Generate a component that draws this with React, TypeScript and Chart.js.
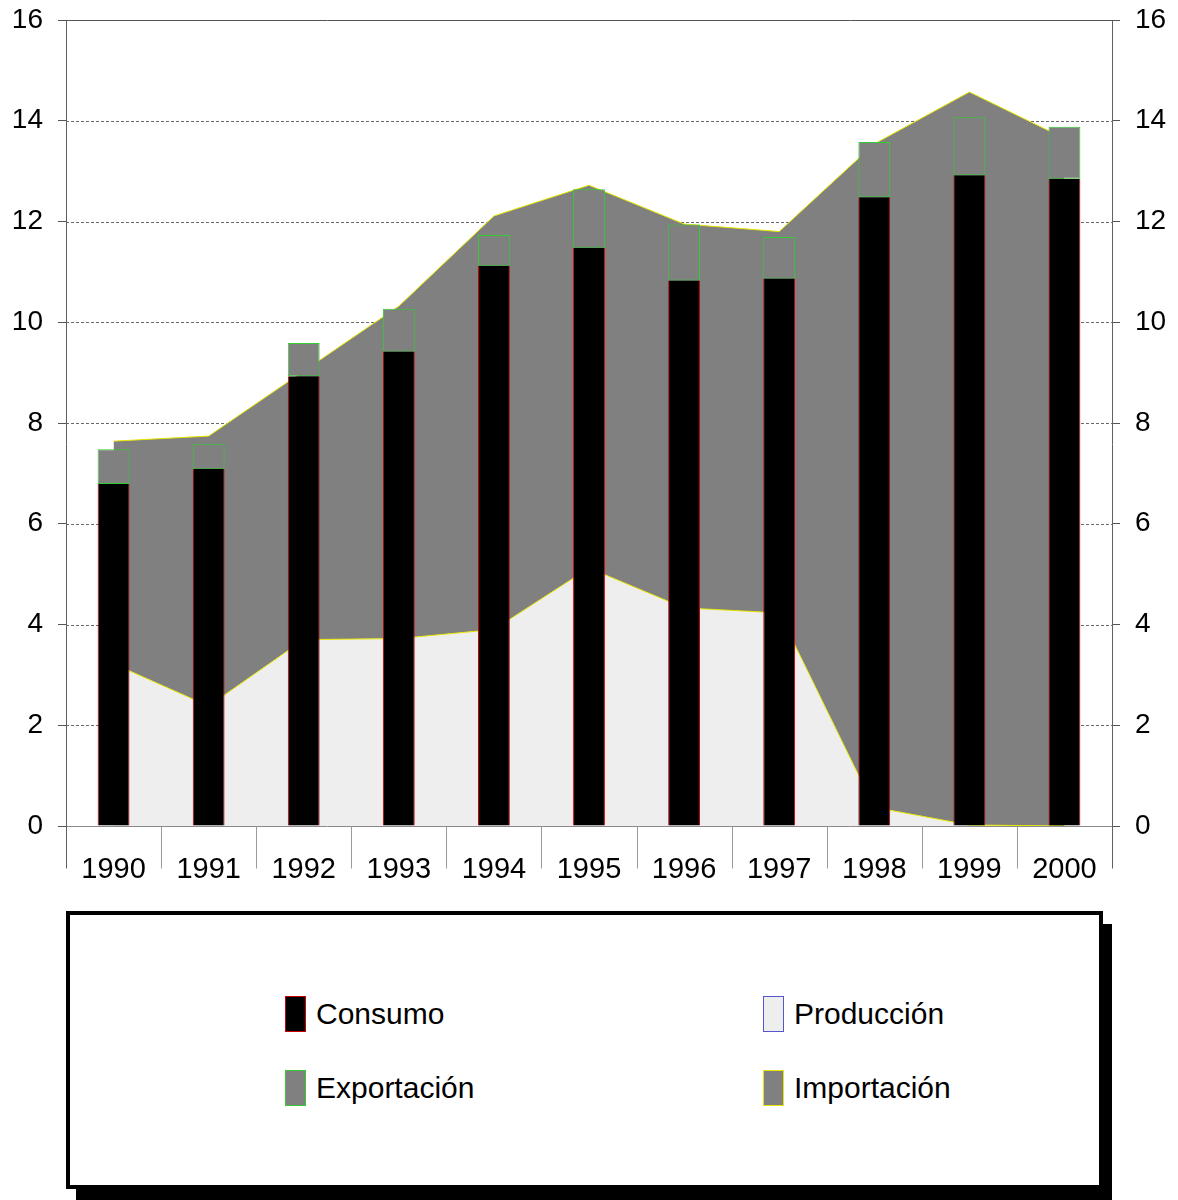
import React, { useEffect, useRef } from "react";
import { Chart, registerables } from "chart.js";

Chart.register(...registerables);

const years = ["1990", "1991", "1992", "1993", "1994", "1995", "1996", "1997", "1998", "1999", "2000"];
const consumo = [6.79, 7.09, 8.93, 9.42, 11.12, 11.48, 10.83, 10.87, 12.48, 12.92, 12.85];
const exportacion = [0.69, 0.49, 0.66, 0.85, 0.61, 1.16, 1.11, 0.82, 1.1, 1.15, 1.03];
const produccion = [3.22, 2.38, 3.7, 3.72, 3.9, 5.12, 4.33, 4.23, 0.37, 0.02, 0];
const importacion = [4.42, 5.36, 5.33, 6.6, 8.21, 7.6, 7.62, 7.57, 13.17, 14.55, 13.65];
const yMin = 0;
const yMax = 16;
const yStep = 2;

const legendItems = [
  { label: "Consumo", fill: "#000000", border: "#cc0000" },
  { label: "Producción", fill: "#eeeeee", border: "#5555cc" },
  { label: "Exportación", fill: "#808080", border: "#33cc33" },
  { label: "Importación", fill: "#808080", border: "#e6e600" },
];

const FONT = "'Liberation Sans', Arial, sans-serif";

const framePlugin = {
  id: "frame",
  beforeDatasetsDraw(chart: any) {
    const { ctx, chartArea: a, scales } = chart;
    const y = scales.y;
    ctx.save();
    ctx.strokeStyle = "#6a6a6a";
    ctx.lineWidth = 1;
    ctx.setLineDash([3, 2]);
    for (const t of y.ticks) {
      if (t.value <= yMin || t.value >= yMax) continue;
      const py = Math.round(y.getPixelForValue(t.value)) + 0.5;
      ctx.beginPath();
      ctx.moveTo(a.left, py);
      ctx.lineTo(a.right, py);
      ctx.stroke();
    }
    ctx.restore();
  },
  afterDatasetsDraw(chart: any) {
    const { ctx, chartArea: a, scales } = chart;
    const y = scales.y;
    const x = scales.x;
    const ext = 42;
    ctx.save();
    ctx.lineWidth = 1;
    ctx.strokeStyle = "#555555";
    const pt = Math.round(y.getPixelForValue(yMax)) + 0.5;
    ctx.beginPath();
    ctx.moveTo(a.left, pt);
    ctx.lineTo(a.right, pt);
    ctx.stroke();
    ctx.strokeStyle = "#8a8a8a";
    const p0 = Math.round(y.getPixelForValue(yMin)) + 0.5;
    ctx.beginPath();
    ctx.moveTo(a.left, p0);
    ctx.lineTo(a.right, p0);
    ctx.stroke();
    ctx.strokeStyle = "#9a9a9a";
    const n = years.length;
    const step = x.getPixelForValue(1) - x.getPixelForValue(0);
    for (let i = 1; i < n; i++) {
      const px = Math.round(x.getPixelForValue(i) - step / 2) + 0.5;
      ctx.beginPath();
      ctx.moveTo(px, p0);
      ctx.lineTo(px, p0 + ext);
      ctx.stroke();
    }
    ctx.strokeStyle = "#606060";
    for (const px0 of [a.left, a.right]) {
      const px = Math.round(px0) + 0.5;
      ctx.beginPath();
      ctx.moveTo(px, pt);
      ctx.lineTo(px, p0 + ext);
      ctx.stroke();
    }
    ctx.restore();
  },
};

const fitY = (s: any) => {
  s.width = 66;
  s.paddingTop = 0;
  s.paddingBottom = 0;
};

export default function App() {
  const canvasRef = useRef<HTMLCanvasElement | null>(null);

  useEffect(() => {
    if (!canvasRef.current) return;
    const chart = new Chart(canvasRef.current, {
      type: "bar",
      data: {
        labels: years,
        datasets: [
          {
            type: "bar",
            label: "Consumo",
            data: consumo,
            backgroundColor: "#000000",
            borderColor: "#cc0000",
            borderWidth: { top: 0, left: 1, right: 1, bottom: 0 } as any,
            borderSkipped: false,
            stack: "bars",
            order: 0,
            barPercentage: 0.335,
            categoryPercentage: 1,
          } as any,
          {
            type: "bar",
            label: "Exportación",
            data: exportacion,
            backgroundColor: "#808080",
            borderColor: "#33cc33",
            borderWidth: 1,
            borderSkipped: false,
            stack: "bars",
            order: 0,
            barPercentage: 0.335,
            categoryPercentage: 1,
          } as any,
          {
            type: "line",
            label: "Producción",
            data: produccion,
            backgroundColor: "#eeeeee",
            borderColor: "#e6e600",
            borderWidth: 1,
            pointRadius: 0,
            tension: 0,
            fill: "origin",
            stack: "area",
            order: 1,
          } as any,
          {
            type: "line",
            label: "Importación",
            data: importacion,
            backgroundColor: "#808080",
            borderColor: "#e6e600",
            borderWidth: 1,
            pointRadius: 0,
            tension: 0,
            fill: "-1",
            stack: "area",
            order: 1,
          } as any,
        ],
      },
      options: {
        responsive: false,
        animation: false,
        layout: { padding: { top: 20, left: 0, right: 0, bottom: 0 } },
        plugins: {
          legend: { display: false },
          tooltip: { enabled: false },
        },
        scales: {
          x: {
            stacked: true,
            grid: { display: false, drawTicks: false },
            border: { display: false },
            ticks: {
              color: "#000000",
              font: { family: FONT, size: 29 },
              padding: 27,
              maxRotation: 0,
              autoSkip: false,
            },
            afterFit: (s: any) => {
              s.height = 74;
              s.paddingLeft = 0;
              s.paddingRight = 0;
            },
          },
          y: {
            stacked: true,
            position: "left",
            min: yMin,
            max: yMax,
            grid: { display: true, drawOnChartArea: false, drawTicks: true, tickLength: 8, color: "#555555" },
            border: { display: false },
            ticks: {
              stepSize: yStep,
              color: "#000000",
              font: { family: FONT, size: 28 },
              padding: 15,
            },
            afterFit: fitY,
          },
          y2: {
            position: "right",
            min: yMin,
            max: yMax,
            grid: { display: true, drawOnChartArea: false, drawTicks: true, tickLength: 8, color: "#555555" },
            border: { display: false },
            ticks: {
              stepSize: yStep,
              color: "#000000",
              font: { family: FONT, size: 28 },
              padding: 15,
            },
            afterFit: fitY,
          },
        },
      } as any,
      plugins: [framePlugin],
    });
    return () => chart.destroy();
  }, []);

  const pos = [
    { left: 285, top: 996 },
    { left: 763, top: 996 },
    { left: 285, top: 1070 },
    { left: 763, top: 1070 },
  ];

  return (
    <div style={{ position: "absolute", left: 0, top: 0, width: 1178, height: 1200, background: "#fff", overflow: "hidden" }}>
      <canvas ref={canvasRef} width={1178} height={900} style={{ position: "absolute", left: 0, top: 0, width: 1178, height: 900 }} />
      <div style={{ position: "absolute", left: 76, top: 924, width: 1036, height: 276, background: "#000" }} />
      <div
        style={{
          position: "absolute",
          left: 66,
          top: 911,
          width: 1037,
          height: 278,
          boxSizing: "border-box",
          border: "4px solid #000",
          background: "#fff",
        }}
      />
      {legendItems.map((it, i) => (
        <div key={it.label} style={{ position: "absolute", left: pos[i].left, top: pos[i].top, height: 36, display: "flex", alignItems: "center" }}>
          <div
            style={{
              width: 21,
              height: 36,
              boxSizing: "border-box",
              background: it.fill,
              border: `1px solid ${it.border}`,
            }}
          />
          <span style={{ marginLeft: 10, fontFamily: FONT, fontSize: 30, color: "#000", lineHeight: "36px", whiteSpace: "nowrap" }}>{it.label}</span>
        </div>
      ))}
    </div>
  );
}
